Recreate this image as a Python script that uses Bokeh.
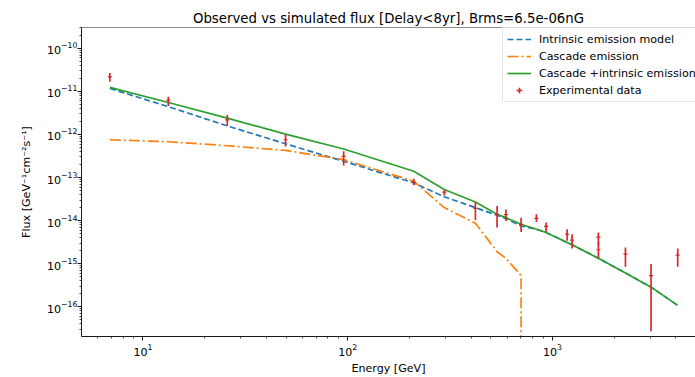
import math
from bokeh.plotting import figure
from bokeh.models import (FixedTicker, Legend, LegendItem, Span, Range1d)
from bokeh.embed import file_html
from bokeh.resources import INLINE

# ---------------- data ----------------
data_energy = [6.89, 13.3, 25.8, 49.7, 95.5, 210, 296, 420, 536, 592, 702,
               834, 930, 1178, 1246, 1675, 1675, 2270, 3027, 4085]
data_flux = [2.18e-11, 6.3e-12, 2.18e-12, 7.53e-13, 3.1e-13, 7.8e-14, 4.58e-14,
             1.92e-14, 1.40e-14, 1.38e-14, 8.2e-15, 1.13e-14, 7.3e-15, 4.83e-15,
             3.52e-15, 4.12e-15, 2.1e-15, 1.67e-15, 5.27e-16, 1.58e-15]
data_hi = [2.69e-11, 7.5e-12, 2.84e-12, 9.8e-13, 4.05e-13, 9.3e-14, 5.09e-14,
           2.69e-14, 2.17e-14, 1.82e-14, 1.17e-14, 1.40e-14, 9.0e-15, 6.3e-15,
           4.83e-15, 5.28e-15, 3.16e-15, 2.38e-15, 9.8e-16, 2.26e-15]
data_lo = [1.67e-11, 4.58e-12, 1.58e-12, 5.27e-13, 1.89e-13, 6.6e-14, 3.84e-14,
           1.03e-14, 6.9e-15, 9.8e-15, 5.46e-15, 9.3e-15, 5.46e-15, 3.39e-15,
           2.26e-15, 2.69e-15, 1.33e-15, 8.5e-16, 2.7e-17, 8.5e-16]

model_energy = [6.89, 13.3, 25.8, 49.7, 95.5, 210, 296, 420, 536, 592, 702,
                834, 930, 1178, 1246, 1675, 2270, 3027, 4085]
intrinsic = [1.17e-11, 4.43e-12, 1.58e-12, 6.08e-13, 2.38e-13, 7.5e-14, 3.58e-14,
             2.0e-14, 1.33e-14, 1.11e-14, 7.5e-15, 6.3e-15, 5.28e-15, 3.1e-15,
             2.74e-15, 1.33e-15, 6.08e-16, 2.84e-16, 1.07e-16]
total = [1.24e-11, 5.52e-12, 2.39e-12, 1.02e-12, 4.59e-13, 1.40e-13, 5.28e-14,
         2.69e-14, 1.40e-14, 1.17e-14, 8.2e-15, 6.3e-15, 5.28e-15, 3.1e-15,
         2.74e-15, 1.33e-15, 6.08e-16, 2.84e-16, 1.07e-16]
cascade_energy = [6.89, 13.3, 25.8, 49.7, 95.5, 210, 296, 420, 536, 592, 702]
cascade = [7.53e-13, 6.78e-13, 5.47e-13, 4.27e-13, 2.6e-13, 8.2e-14, 2.0e-14,
           8.7e-15, 1.89e-15, 1.33e-15, 5.27e-16]

x_lim = (5.01, 4990.0)
y_lim = (2.03e-17, 3.05e-10)

title = "Observed vs simulated flux [Delay<8yr], Brms=6.5e-06nG"
x_label = "Energy [GeV]"
y_label = "Flux [GeV\u207b\u00b9cm\u207b\u00b2s\u207b\u00b9]"
legend_labels = ["Intrinsic emission model", "Cascade emission",
                 "Cascade +intrinsic emission", "Experimental data"]

BLUE, ORANGE, GREEN, RED = "#1f77b4", "#ff7f0e", "#2ca02c", "#d62728"
FONT = "DejaVu Sans"
LW = 1.67

p = figure(width=695, height=377, x_axis_type="log", y_axis_type="log",
           x_range=Range1d(*x_lim), y_range=Range1d(*y_lim),
           output_backend="svg", toolbar_location=None,
           min_border_left=81, min_border_right=0, min_border_top=27,
           min_border_bottom=39)
p.outline_line_color = None
p.background_fill_color = "white"
p.border_fill_color = "white"
p.xgrid.visible = False
p.ygrid.visible = False

p.title.text = title
p.title.text_font = FONT
p.title.text_font_size = "13.3px"
p.title.text_font_style = "normal"
p.title.text_color = "black"
p.title.align = "center"
p.title.offset = 5
p.title.standoff = 4

# ticks
x_major = [10.0 ** d for d in range(1, 4)]
x_minor = [k * 10.0 ** d for d in range(0, 4) for k in range(2, 10)]
y_major = [10.0 ** d for d in range(-16, -9)]
y_minor = [k * 10.0 ** d for d in range(-17, -9) for k in range(2, 10)]
p.xaxis.ticker = FixedTicker(ticks=x_major, minor_ticks=x_minor)
p.yaxis.ticker = FixedTicker(ticks=y_major, minor_ticks=y_minor)

for ax in (p.xaxis, p.yaxis):
    ax.axis_line_color = "black"
    ax.axis_line_width = 0.9
    ax.major_tick_line_color = "black"
    ax.minor_tick_line_color = "black"
    ax.major_tick_in = 0
    ax.major_tick_out = 4
    ax.minor_tick_in = 0
    ax.minor_tick_out = 2
    ax.major_tick_line_width = 0.9
    ax.minor_tick_line_width = 0.7
    ax.major_label_text_font = FONT
    ax.major_label_text_font_size = "11.1px"
    ax.major_label_text_color = "black"
    ax.axis_label_text_font = FONT
    ax.axis_label_text_font_size = "11.1px"
    ax.axis_label_text_font_style = "normal"
    ax.axis_label_text_color = "black"

p.xaxis.major_label_standoff = 3
p.yaxis.major_label_standoff = 0
p.xaxis.axis_label = x_label
p.yaxis.axis_label = y_label
p.xaxis.axis_label_standoff = 3
p.yaxis.axis_label_standoff = 11

# top spine
p.add_layout(Span(location=y_lim[1], dimension="width", line_color="black",
                  line_width=0.9))

# model curves
r_int = p.line(model_energy, intrinsic, line_color=BLUE, line_width=LW,
               line_dash="6 3")
r_cas = p.line(cascade_energy + [cascade_energy[-1]],
               cascade + [y_lim[0] * 0.5],
               line_color=ORANGE, line_width=LW, line_dash="11 3 2 3")
r_tot = p.line(model_energy, total, line_color=GREEN, line_width=LW)

# experimental data with error bars
r_err = p.segment(x0=data_energy, y0=data_lo, x1=data_energy, y1=data_hi,
                  line_color=RED, line_width=LW)
r_pt = p.scatter(data_energy, data_flux, marker="dash", size=4,
                 line_color=RED, line_width=1.2)
r_leg = p.scatter(data_energy, data_flux, marker="cross", size=0.1,
                  line_color=RED, line_width=LW)

legend = Legend(items=[
    LegendItem(label=legend_labels[0], renderers=[r_int]),
    LegendItem(label=legend_labels[1], renderers=[r_cas]),
    LegendItem(label=legend_labels[2], renderers=[r_tot]),
    LegendItem(label=legend_labels[3], renderers=[r_leg]),
], location=(421, 234))
legend.label_text_font = FONT
legend.label_text_font_size = "11.1px"
legend.label_text_color = "black"
legend.glyph_width = 24
legend.glyph_height = 14
legend.label_height = 14
legend.spacing = 3
legend.padding = 4
legend.margin = 0
legend.label_standoff = 8
legend.border_line_color = "#cccccc"
legend.border_line_width = 1
legend.background_fill_alpha = 0.8
p.add_layout(legend, "center")

open("out.html", "w").write(file_html(p, INLINE))
